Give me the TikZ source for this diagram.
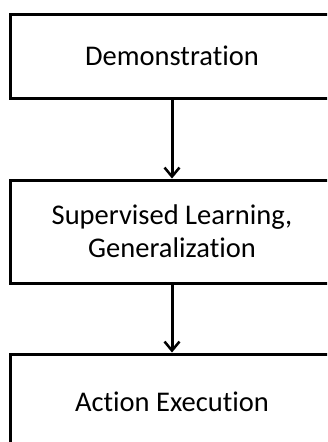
\documentclass[tikz,border=0pt]{standalone}
\usepackage{fontspec}
\setmainfont{Carlito}[Ligatures=NoCommon]
\usetikzlibrary{arrows.meta}

\begin{document}
\begin{tikzpicture}[
  x=1pt, y=-1pt,
  font=\fontsize{28.5}{33}\selectfont,
  stage/.style={draw, line width=3pt, align=center, minimum width=324pt, inner sep=0pt},
  arr/.style={-{Straight Barb[length=9pt, width=15pt, line width=2.5pt]}, line width=3pt},
]
\useasboundingbox (0,0) rectangle (327,442);
\clip (0,0) rectangle (327,442);
% ---- stages
\node[stage, minimum height=84pt] (demo) at (172,56) {Demonstration};
\node[stage, minimum height=103pt] (learn) at (172,231.5) {Supervised Learning,\\Generalization};
\node[stage, minimum height=96pt] (exec) at (172,402) {Action Execution};
% ---- flow
\draw[arr] (demo) -- (learn);
\draw[arr] (learn) -- (exec);
\end{tikzpicture}
\end{document}
